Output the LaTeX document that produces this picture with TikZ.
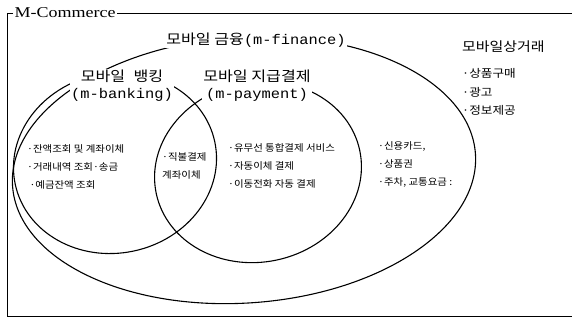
\documentclass[tikz,border=0pt]{standalone}
\usepackage{fontspec}
\setmainfont{Liberation Serif}
\newfontfamily\kr[FakeStretch=1.1]{Noto Sans CJK KR}
\newfontfamily\krw[FakeStretch=1.15]{Noto Sans CJK KR}
\newfontfamily\lat[FakeStretch=1.1]{Liberation Mono}
\newfontfamily\ttl[FakeStretch=1.2]{Liberation Serif}
\begin{document}
\begin{tikzpicture}[x=1pt,y=-1pt]
\useasboundingbox (0,0) rectangle (572,320);
\tikzset{
  ell/.style={draw, line width=1.1pt},
  frame/.style={draw, line width=0.8pt},
  lbl/.style={fill=white, inner sep=1pt, align=center, font=\krw\fontsize{14}{17}\selectfont},
  body/.style={anchor=north west, inner sep=0pt, align=left, font=\kr\fontsize{9.5}{18}\selectfont},
  lst/.style={anchor=west, inner sep=0pt, align=left, font=\krw\fontsize{11}{18.5}\selectfont}
}
% frame
\node[anchor=west, inner sep=1.5pt, font=\ttl\fontsize{15}{16}\selectfont] (mc) at (13,13) {M-Commerce};
\draw[frame] (572,13) -- (mc.east);
\draw[frame] (mc.west) -- (7,13) -- (7,316) -- (572,316);

% ellipses
\draw[ell, rotate around={4:(244,170)}] (244,170) ellipse [x radius=232pt, y radius=133pt];
\draw[ell, rotate around={12:(115,163)}] (115,163) ellipse [x radius=102pt, y radius=90pt];
\draw[ell, rotate around={12:(258,172)}] (258,172) ellipse [x radius=104pt, y radius=90pt];

% labels
\node[lbl] (fin) at (256,40) {모바일 금융{\lat(m-finance)}};
\node[lbl] (bank) at (122,86) {모바일\hspace{0.6em}뱅킹\\{\lat(m-banking)}};
\node[lbl] (pay) at (257,86) {모바일 지급결제\\{\lat(m-payment)}};

\node[lst] (mcom) at (462,47) {{\fontsize{13}{16}\selectfont 모바일상거래}};
\node[lst] (items) at (462,73) {·상품구매};
\node[lst] (items2) at (462,92) {·광고};
\node[lst] (items3) at (462,110) {·정보제공};

% body texts
\node[body] (tb) at (27,144) {·잔액조회 및 계좌이체\\·거래내역 조회·송금\\\ ·예금잔액 조회};
\node[body] (tbp) at (162,152) {·직불결제\\계좌이체};
\node[body] (tp) at (228,143) {·유무선 통합결제 서비스\\·자동이체 결제\\·이동전화 자동 결제};
\node[body] (tr) at (378,141) {·신용카드,\\·상품권\\·주차, 교통요금 :};
\end{tikzpicture}
\end{document}
